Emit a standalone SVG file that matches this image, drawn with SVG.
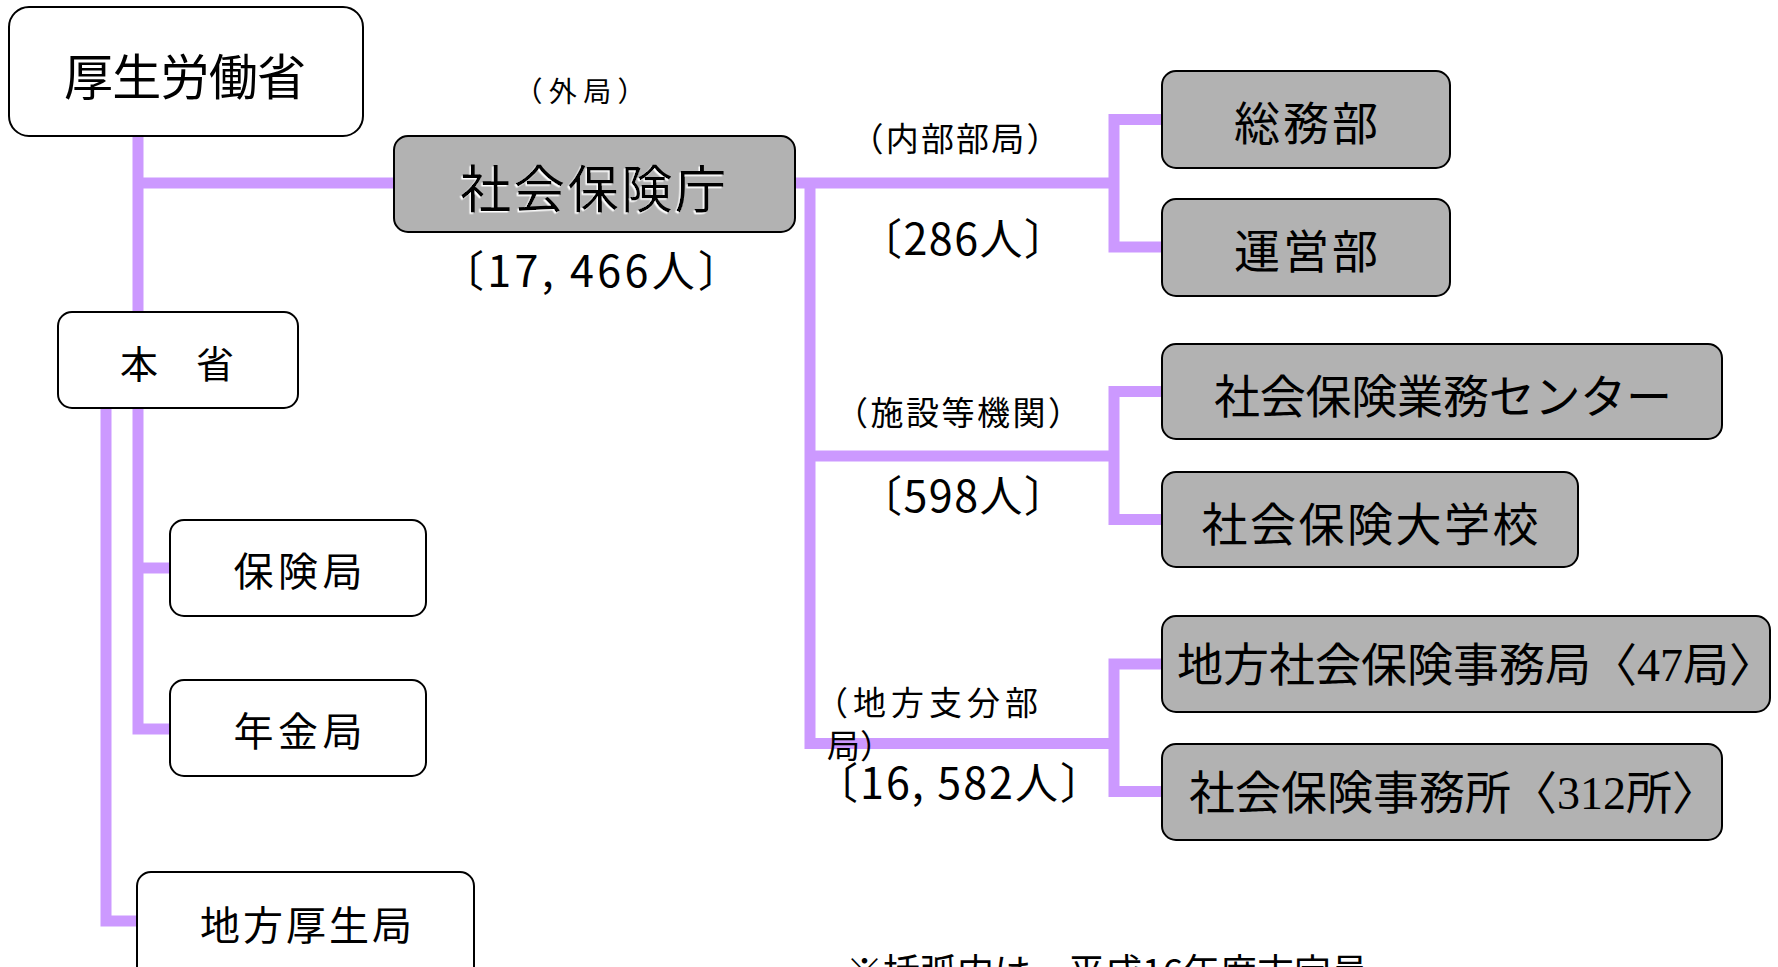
<svg xmlns="http://www.w3.org/2000/svg" width="1778" height="967" viewBox="0 0 1778 967">
<defs>
<style>
.box{stroke:#000;stroke-width:2}
.w{fill:#fff}
.g{fill:#b2b2b2}
.t{font-family:"Noto Sans CJK JP","Noto Sans",sans-serif;fill:#000}
.m{text-anchor:middle}
.ln{fill:none;stroke:#cc99ff;stroke-width:11;stroke-linejoin:miter;stroke-linecap:butt}
.serif{font-family:"Liberation Serif","Noto Sans CJK JP",serif}
</style>
<filter id="ws" x="-5%" y="-10%" width="110%" height="120%">
<feDropShadow dx="-1.5" dy="1.5" stdDeviation="0" flood-color="#fff" flood-opacity="1"/>
</filter>
</defs>
<rect width="1778" height="967" fill="#fff"/>

<g id="connectors">
<path class="ln" d="M138 136 V312"/>
<path class="ln" d="M138 183 H394"/>
<path class="ln" d="M138 408 V729 H170"/>
<path class="ln" d="M138 568 H170"/>
<path class="ln" d="M106 408 V921 H137"/>
<path class="ln" d="M795 183 H1114"/>
<path class="ln" d="M810 183 V743.5 H1114"/>
<path class="ln" d="M810 456 H1114"/>
<path class="ln" d="M1162 119.5 H1114 V247 H1162"/>
<path class="ln" d="M1162 391.5 H1114 V519.5 H1162"/>
<path class="ln" d="M1162 664 H1114 V791.5 H1162"/>
</g>

<g id="n-kouseiroudoushou">
<rect class="box w" x="9" y="7" width="354" height="129" rx="20"/>
<text class="t m" x="185" y="95" font-size="49" textLength="242">厚生労働省</text>
</g>

<g id="n-shakaihokencho">
<rect class="box g" x="394" y="136" width="401" height="96" rx="14"/>
<text class="t m" x="593" y="208" font-size="51" textLength="266" filter="url(#ws)">社会保険庁</text>
</g>

<g id="n-honsho">
<rect class="box w" x="58" y="312" width="240" height="96" rx="14"/>
<text class="t m" x="177" y="378" font-size="38" textLength="114">本　省</text>
</g>

<g id="n-hokenkyoku">
<rect class="box w" x="170" y="520" width="256" height="96" rx="14"/>
<text class="t m" x="298" y="586" font-size="40" textLength="129">保険局</text>
</g>

<g id="n-nenkinkyoku">
<rect class="box w" x="170" y="680" width="256" height="96" rx="14"/>
<text class="t m" x="298" y="746" font-size="40" textLength="129">年金局</text>
</g>

<g id="n-chihoukouseikyoku">
<rect class="box w" x="137" y="872" width="337" height="130" rx="14"/>
<text class="t m" x="306" y="940" font-size="40" textLength="212">地方厚生局</text>
</g>

<g id="n-soumubu">
<rect class="box g" x="1162" y="71" width="288" height="97" rx="14"/>
<text class="t m" x="1306" y="140" font-size="46" textLength="144">総務部</text>
</g>

<g id="n-uneibu">
<rect class="box g" x="1162" y="199" width="288" height="97" rx="14"/>
<text class="t m" x="1306" y="268" font-size="46" textLength="144">運営部</text>
</g>

<g id="n-gyoumucenter">
<rect class="box g" x="1162" y="344" width="560" height="95" rx="14"/>
<text class="t m" x="1443" y="413" font-size="46" textLength="458">社会保険業務センター</text>
</g>

<g id="n-daigakkou">
<rect class="box g" x="1162" y="472" width="416" height="95" rx="14"/>
<text class="t m" x="1370" y="541" font-size="46" textLength="337">社会保険大学校</text>
</g>

<g id="n-chihoujimukyoku">
<rect class="box g" x="1162" y="616" width="608" height="96" rx="14"/>
<text class="t" x="1177" y="681" font-size="46">地方社会保険事務局〈<tspan class="serif">47</tspan>局〉</text>
</g>

<g id="n-jimusho">
<rect class="box g" x="1162" y="744" width="560" height="96" rx="14"/>
<text class="t" x="1189" y="809" font-size="46">社会保険事務所〈<tspan class="serif">312</tspan>所〉</text>
</g>

<g id="labels">
<text class="t m" x="580" y="102" font-size="28" textLength="131">（外局）</text>
<text class="t m" x="591" y="287" font-size="43" textLength="300">〔17, 466人〕</text>
<text class="t m" x="955" y="151" font-size="33" textLength="209">（内部部局）</text>
<text class="t m" x="963" y="255" font-size="43" textLength="208">〔286人〕</text>
<text class="t m" x="958" y="425" font-size="33" textLength="246">（施設等機関）</text>
<text class="t m" x="963" y="512" font-size="43" textLength="208">〔598人〕</text>
<text class="t" x="815" y="715" font-size="33" textLength="223">（地方支分部</text>
<text class="t" x="827" y="758" font-size="33">局）</text>
<text class="t m" x="959" y="799" font-size="43" textLength="288">〔16, 582人〕</text>
<text class="t" x="846" y="986" font-size="37" textLength="522">※括弧内は、平成16年度末定員</text>
</g>
</svg>
